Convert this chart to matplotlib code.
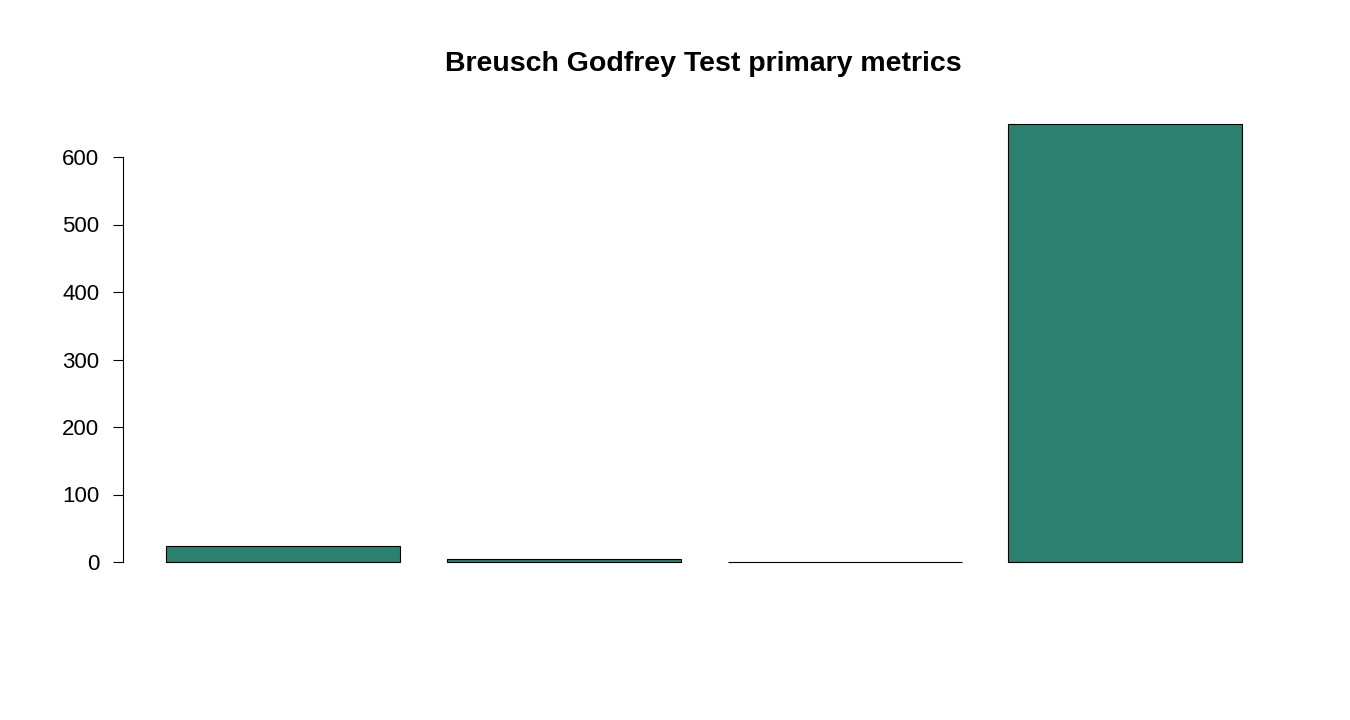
import matplotlib
matplotlib.use("Agg")
import matplotlib.pyplot as plt

plt.rcParams['font.family'] = ['Liberation Sans', 'DejaVu Sans']

# values
categories = ["m1", "m2", "m3", "m4"]
values = [23.5, 4.5, 0.3, 649]
yticks = [0, 100, 200, 300, 400, 500, 600]

W, H = 1350, 720
fig = plt.figure(figsize=(W / 100, H / 100), dpi=100)
# axes spans pixel x 123..1290, y 100..600
ax = fig.add_axes([123 / W, 1 - 600 / H, (1290 - 123) / W, 500 / H])

xs = [0.2 + i * 1.2 + 0.5 for i in range(len(values))]
ax.bar(xs, values, width=1.0, color="#2C8070", edgecolor="black", linewidth=0.8)

ax.set_xlim(0.2 - 43 / 234, 0.2 + 1124 / 234)
ax.set_ylim(-38 / 0.675, 462 / 0.675)

for s in ["top", "right", "bottom"]:
    ax.spines[s].set_visible(False)
ax.spines["left"].set_bounds(0, 600)
ax.spines["left"].set_linewidth(0.8)
ax.set_xticks([])
ax.set_yticks(yticks)
ax.tick_params(axis="y", length=7, width=0.8, labelsize=16, pad=10)

fig.text(703 / W, 1 - 64 / H, "Breusch Godfrey Test primary metrics",
         ha="center", va="center", fontsize=20.5, fontweight="bold")

fig.savefig("out.png", dpi=100, facecolor="white")
